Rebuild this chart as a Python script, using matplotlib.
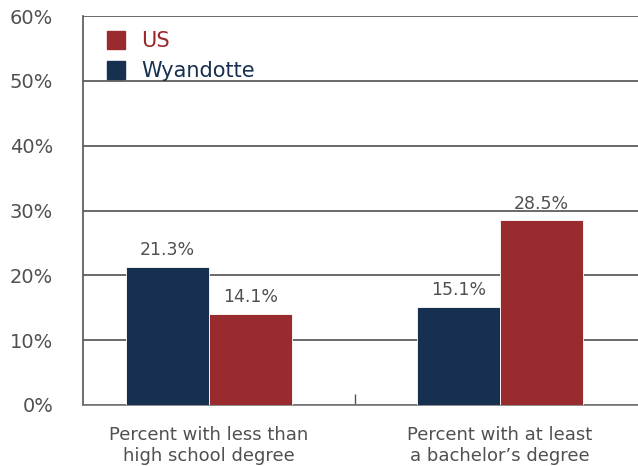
import matplotlib
matplotlib.use("Agg")
import matplotlib.pyplot as plt
import numpy as np
from matplotlib.lines import Line2D

categories = ["Percent with less than\nhigh school degree",
              "Percent with at least\na bachelor\u2019s degree"]
wyandotte = [21.3, 15.1]
us = [14.1, 28.5]
series_names = ["US", "Wyandotte"]

navy = "#17304f"
red = "#992a2d"
gray = "#505050"

plt.rcParams["font.family"] = ["DejaVu Sans"]

fig = plt.figure(figsize=(6.38, 4.66), dpi=100)
ax = fig.add_axes([83 / 638, 1 - 405 / 466, 1 - 83 / 638, (405 - 16) / 466])

x = np.arange(len(categories))
w = 0.285
b1 = ax.bar(x - w / 2, wyandotte, w, color=navy, edgecolor="white", linewidth=0.6, zorder=3)
b2 = ax.bar(x + w / 2, us, w, color=red, edgecolor="white", linewidth=0.6, zorder=3)

# value labels above bars
for bars, vals in ((b1, wyandotte), (b2, us)):
    for r, v in zip(bars, vals):
        ax.text(r.get_x() + r.get_width() / 2, v + 1.8, f"{v:.1f}%",
                ha="center", va="baseline", fontsize=12.5, color=gray)

ax.set_xlim(-0.433, 1.474)
ax.set_ylim(0, 60)
ax.set_yticks(np.arange(0, 61, 10))
ax.set_yticklabels([f"{t}%" for t in range(0, 61, 10)], fontsize=14, color=gray)
ax.yaxis.grid(True, color="#505050", linewidth=1.2, zorder=0)
ax.tick_params(axis="y", length=0, pad=21.5)

ax.set_xticks([0.5])
ax.set_xticklabels([""])
ax.tick_params(axis="x", direction="in", length=8, color="#555555", width=1)
for xi, c in zip(x, categories):
    ax.text(xi, -3.2, c, ha="center", va="top", fontsize=13, color=gray)

for s in ["top", "right"]:
    ax.spines[s].set_visible(False)
ax.spines["left"].set_color("#555555")
ax.spines["bottom"].set_color("#777777")
ax.spines["left"].set_linewidth(1.2)
ax.spines["bottom"].set_linewidth(1.2)

handles = [Line2D([], [], marker="s", linestyle="", markersize=13, color=red),
           Line2D([], [], marker="s", linestyle="", markersize=13, color=navy)]
leg = ax.legend(handles, series_names, loc="upper left", bbox_to_anchor=(0.025, 0.983),
                frameon=False, fontsize=15, labelcolor=[red, navy], handlelength=1.0,
                handletextpad=0.73, labelspacing=0.5, borderaxespad=0)

fig.savefig("out.png", dpi=100)
